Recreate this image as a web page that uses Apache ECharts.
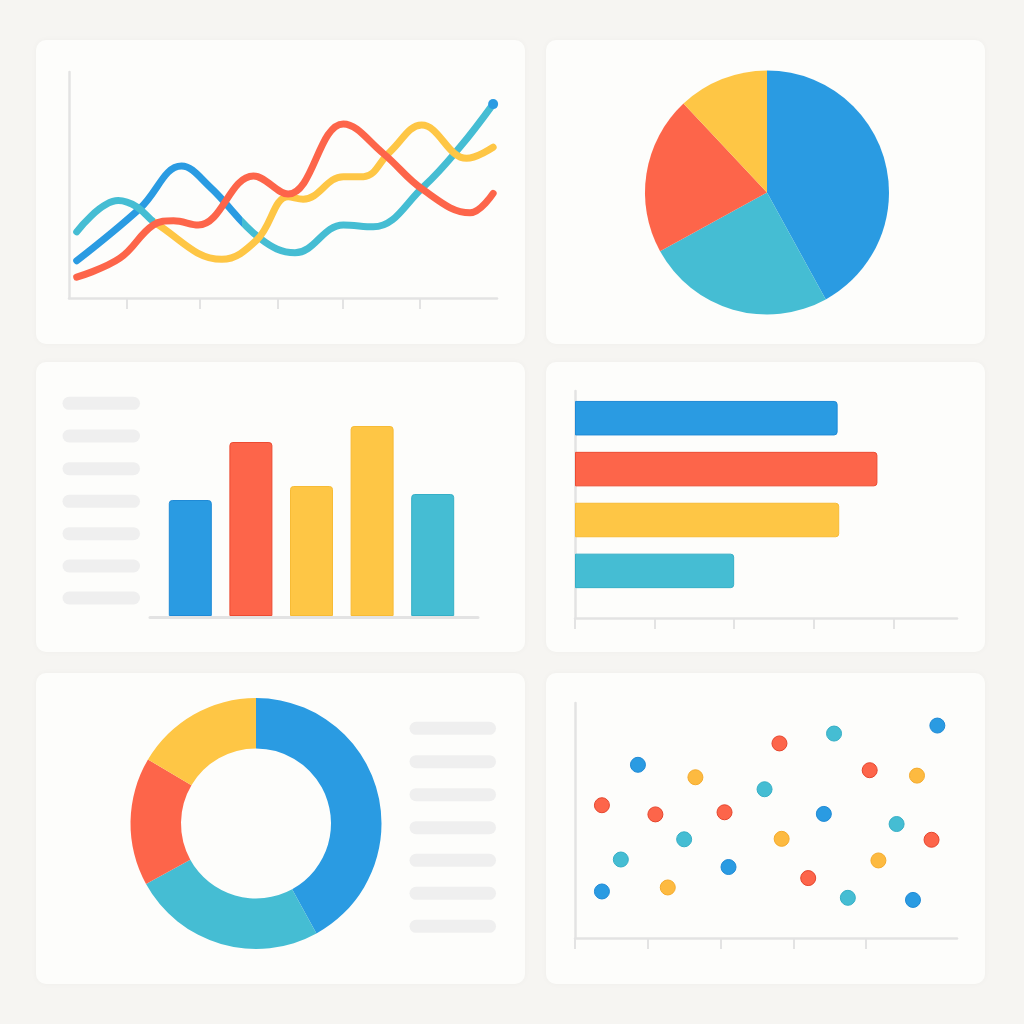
<!DOCTYPE html>
<html>
<head>
<meta charset="utf-8">
<script src="https://cdn.jsdelivr.net/npm/echarts@6/dist/echarts.min.js"></script>
<style>
  html, body { margin: 0; padding: 0; background: #f6f5f2; }
  #chart { width: 1024px; height: 1024px; }
</style>
</head>
<body>
<div id="chart"></div>
<script>
// colours
var BLUE = '#2a9be2', RED = '#fd654a', YELLOW = '#fec645', TEAL = '#45bdd3';
var AXIS = '#e3e3e3', PILL = '#efefef';

// panel 1 - smooth lines, [x, y]
var lineBlue = [[1.8, 16.5], [16.6, 39.7], [26.3, 58.4], [32.9, 49.2], [44.6, 26.4], [52.8, 20.0],
  [64.1, 32.3], [71.1, 31.5], [82.8, 49.2], [91.4, 66.9], [99.1, 85.8]];
var lineTeal = [[1.8, 29.3], [11.5, 43.1], [15.8, 40.4], [20.1, 33.3], [35.7, 17.1], [43.9, 25.7],
  [51.2, 44.8], [54.7, 43.7], [64.1, 53.7], [68.8, 53.7], [75.0, 64.7], [82.4, 76.5], [92.9, 61.8], [99.1, 66.7]];
var lineRed = [[1.8, 9.2], [11.9, 17.6], [19.7, 32.3], [24.4, 34.2], [30.2, 32.3], [43.1, 54.0],
  [51.2, 46.0], [64.1, 77.0], [73.4, 64.0], [82.8, 47.8], [93.7, 37.7], [99.1, 46.3]];
var lineTicks = [13.5, 30.6, 48.8, 64.0, 82.0];
// x where the first two lines change colour
var blueSwitchX = 40.7, tealSwitchX = 20.5;

// panel 2 - pie
var pieNames = ['A', 'B', 'C', 'D'];
var pieValues = [42, 25, 21, 12];

// panel 3 - columns
var colCats = ['A', 'B', 'C', 'D', 'E'];
var colValues = [58, 87, 65, 95, 61];

// panel 4 - horizontal bars
var hbarCats = ['A', 'B', 'C', 'D'];
var hbarValues = [82.5, 95, 83, 50];
var hbarTicks = [0, 25, 50, 75, 100];

// panel 5 - donut
var donutNames = ['A', 'B', 'C', 'D'];
var donutValues = [42, 25, 16.5, 16.5];

// panel 6 - scatter, [x, y]
var dotsBlue = [[17.3, 73.7], [7.4, 19.8], [42.2, 30.2], [68.4, 52.8], [99.6, 90.4], [92.9, 16.2]];
var dotsRed = [[7.4, 56.5], [22.1, 52.6], [41.1, 53.5], [56.2, 82.8], [81.0, 71.4], [98.0, 41.8], [64.1, 25.5]];
var dotsYellow = [[33.1, 68.4], [25.5, 21.5], [56.8, 42.2], [94.0, 69.1], [83.4, 33.0]];
var dotsTeal = [[12.6, 33.4], [30.0, 42.0], [52.1, 63.3], [71.2, 87.0], [88.4, 48.5], [75.0, 17.1]];
var scatterTicks = [0, 20, 40, 60, 80];

var colColors = [BLUE, RED, YELLOW, YELLOW, TEAL];
var colBorders = ['#1f8ad6', '#ec4b32', '#f7bb35', '#f7bb35', '#35afc6'];
var hbarColors = [BLUE, RED, YELLOW, TEAL];
var hbarBorders = ['#1f8ad6', '#ec4b32', '#f7bb35', '#35afc6'];
var ringColors = [BLUE, TEAL, RED, YELLOW];

var myChart = echarts.init(document.getElementById('chart'));

function panel(x, y, w, h) {
  return {
    type: 'rect', z: -100, silent: true,
    shape: { x: x, y: y, width: w, height: h, r: 10 },
    style: { fill: '#fdfdfb', shadowBlur: 6, shadowColor: 'rgba(0,0,0,0.03)' }
  };
}
function pills(x, ys, w) {
  return ys.map(function (y) {
    return {
      type: 'rect', z: -50, silent: true,
      shape: { x: x, y: y - 6.5, width: w, height: 13, r: 6.5 },
      style: { fill: PILL }
    };
  });
}
// two-colour line, hard switch at data x
function splitGradient(data, atX, c1, c2) {
  var x0 = data[0][0], x1 = data[data.length - 1][0];
  var t = (atX - x0) / (x1 - x0);
  return new echarts.graphic.LinearGradient(0, 0, 1, 0, [
    { offset: 0, color: c1 }, { offset: t, color: c1 },
    { offset: t, color: c2 }, { offset: 1, color: c2 }
  ]);
}

var lineAxis = { show: true, lineStyle: { color: AXIS, width: 2.5 } };
function tickStyle(vals) {
  return { show: true, customValues: vals, length: 11, inside: false, lineStyle: { color: AXIS, width: 2 } };
}
var hidden = { show: false };

var option = {
  backgroundColor: '#f6f5f2',
  animation: false,
  graphic: [
    panel(36, 40, 489, 304), panel(546, 40, 439, 304),
    panel(36, 362, 489, 290), panel(546, 362, 439, 290),
    panel(36, 673, 489, 311), panel(546, 673, 439, 311)
  ].concat(pills(62.5, [403.3, 436, 468.7, 501.3, 533.7, 566, 598], 77.5))
   .concat(pills(409.5, [728.3, 761.7, 794.7, 827.7, 860.3, 893.3, 926.3], 86.5)),
  grid: [
    { left: 69, top: 72, width: 428, height: 226 },     // lines
    { left: 160, top: 416, width: 303, height: 200 },   // columns
    { left: 150, top: 416, width: 328, height: 201 },   // column base line
    { left: 575, top: 391, width: 382, height: 227 },   // hbar axes
    { left: 575, top: 392.75, width: 382, height: 203.6 }, // hbars
    { left: 575, top: 703, width: 382, height: 235 }    // scatter
  ],
  xAxis: [
    { gridIndex: 0, type: 'value', min: 0, max: 100, axisLine: lineAxis, axisTick: tickStyle(lineTicks),
      axisLabel: hidden, splitLine: hidden },
    { gridIndex: 1, type: 'category', data: colCats, show: false },
    { gridIndex: 2, type: 'value', min: 0, max: 1, axisLine: { show: true, lineStyle: { color: AXIS, width: 3 } },
      axisTick: hidden, axisLabel: hidden, splitLine: hidden },
    { gridIndex: 3, type: 'value', min: 0, max: 120, axisLine: lineAxis, axisTick: tickStyle(hbarTicks),
      axisLabel: hidden, splitLine: hidden },
    { gridIndex: 4, type: 'value', min: 0, max: 120, show: false },
    { gridIndex: 5, type: 'value', min: 0, max: 105, axisLine: lineAxis, axisTick: tickStyle(scatterTicks),
      axisLabel: hidden, splitLine: hidden }
  ],
  yAxis: [
    { gridIndex: 0, type: 'value', min: 0, max: 100, axisLine: lineAxis, axisTick: hidden,
      axisLabel: hidden, splitLine: hidden },
    { gridIndex: 1, type: 'value', min: 0, max: 100, show: false },
    { gridIndex: 2, type: 'value', min: 0, max: 1, show: false },
    { gridIndex: 3, type: 'value', min: 0, max: 1, axisLine: lineAxis, axisTick: hidden,
      axisLabel: hidden, splitLine: hidden },
    { gridIndex: 4, type: 'category', data: hbarCats, inverse: true, show: false },
    { gridIndex: 5, type: 'value', min: 0, max: 100, axisLine: lineAxis, axisTick: hidden,
      axisLabel: hidden, splitLine: hidden }
  ],
  series: [
    { type: 'line', xAxisIndex: 0, yAxisIndex: 0, smooth: 0.4, symbol: 'circle', symbolSize: 0,
      lineStyle: { width: 7, cap: 'round', color: splitGradient(lineBlue, blueSwitchX, BLUE, TEAL) },
      itemStyle: { color: BLUE },
      data: lineBlue.map(function (p, i) {
        return i === lineBlue.length - 1 ? { value: p, symbolSize: 10 } : p;
      }) },
    { type: 'line', xAxisIndex: 0, yAxisIndex: 0, smooth: 0.4, showSymbol: false,
      lineStyle: { width: 7, cap: 'round', color: splitGradient(lineTeal, tealSwitchX, TEAL, YELLOW) },
      data: lineTeal },
    { type: 'line', xAxisIndex: 0, yAxisIndex: 0, smooth: 0.4, showSymbol: false,
      lineStyle: { width: 7, cap: 'round', color: RED }, itemStyle: { color: RED }, data: lineRed },

    { type: 'pie', center: [767, 192.5], radius: 122, silent: true, label: hidden, labelLine: hidden,
      data: pieValues.map(function (v, i) {
        return { name: pieNames[i], value: v, itemStyle: { color: ringColors[i] } };
      }) },

    { type: 'bar', xAxisIndex: 1, yAxisIndex: 1, barWidth: 43, silent: true,
      data: colValues.map(function (v, i) {
        return { value: v, itemStyle: { color: colColors[i], borderColor: colBorders[i], borderWidth: 1, borderRadius: [3, 3, 0, 0] } };
      }) },

    { type: 'bar', xAxisIndex: 4, yAxisIndex: 4, barWidth: 34.5, silent: true,
      data: hbarValues.map(function (v, i) {
        return { value: v, itemStyle: { color: hbarColors[i], borderColor: hbarBorders[i], borderWidth: 1, borderRadius: [0, 3, 3, 0] } };
      }) },

    { type: 'pie', center: [256, 823.5], radius: [75, 125.5], silent: true, label: hidden, labelLine: hidden,
      data: donutValues.map(function (v, i) {
        return { name: donutNames[i], value: v, itemStyle: { color: ringColors[i] } };
      }) },

    { type: 'scatter', xAxisIndex: 5, yAxisIndex: 5, symbolSize: 15, data: dotsBlue,
      itemStyle: { color: BLUE, borderColor: '#1f8ad6', borderWidth: 1, opacity: 1 } },
    { type: 'scatter', xAxisIndex: 5, yAxisIndex: 5, symbolSize: 15, data: dotsRed,
      itemStyle: { color: RED, borderColor: '#e5452d', borderWidth: 1, opacity: 1 } },
    { type: 'scatter', xAxisIndex: 5, yAxisIndex: 5, symbolSize: 15, data: dotsYellow,
      itemStyle: { color: '#fdba40', borderColor: '#f5ab2c', borderWidth: 1, opacity: 1 } },
    { type: 'scatter', xAxisIndex: 5, yAxisIndex: 5, symbolSize: 15, data: dotsTeal,
      itemStyle: { color: TEAL, borderColor: '#35afc6', borderWidth: 1, opacity: 1 } }
  ]
};

myChart.setOption(option);
</script>
</body>
</html>
